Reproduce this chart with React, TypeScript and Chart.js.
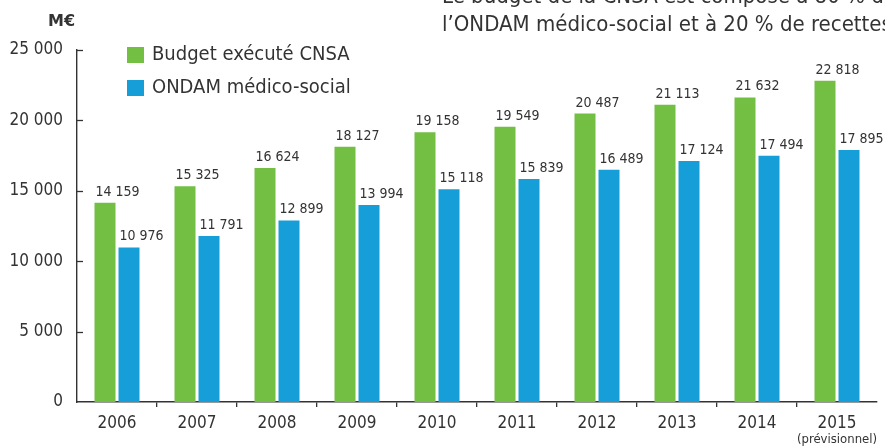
import React, { useEffect, useRef } from "react";
import { Chart, registerables } from "chart.js";

Chart.register(...registerables);

const categories = ["2006", "2007", "2008", "2009", "2010", "2011", "2012", "2013", "2014", "2015"];
const budgetCNSA = [14159, 15325, 16624, 18127, 19158, 19549, 20487, 21113, 21632, 22818];
const ondamMedicoSocial = [10976, 11791, 12899, 13994, 15118, 15839, 16489, 17124, 17494, 17895];
const seriesNames = ["Budget exécuté CNSA", "ONDAM médico-social"];
const seriesColors = ["#72BF44", "#169ED9"];
const yMin = 0;
const yMax = 25000;
const yStep = 5000;
const unitLabel = "M€";
const lastCategoryNote = "(prévisionnel)";
const titleLines = [
  "Le budget de la CNSA est composé à 80 % de crédits de",
  "l’ONDAM médico-social et à 20 % de recettes propres",
];

const FONT = "'DejaVu Sans Condensed', 'DejaVu Sans', sans-serif";
const TEXT = "#333333";

const fmt = (v: number) => {
  const s = Math.round(v).toString();
  return s.replace(/\B(?=(\d{3})+(?!\d))/g, " ");
};

const extrasPlugin = {
  id: "extras",
  afterDatasetsDraw(chart: any) {
    const ctx = chart.ctx;
    ctx.save();
    // data labels
    ctx.font = `14px ${FONT}`;
    ctx.fillStyle = TEXT;
    ctx.textAlign = "left";
    ctx.textBaseline = "alphabetic";
    chart.data.datasets.forEach((ds: any, di: number) => {
      const meta = chart.getDatasetMeta(di);
      meta.data.forEach((bar: any, i: number) => {
        const left = bar.x - bar.width / 2 + 1;
        ctx.fillText(fmt(ds.data[i]), left, bar.y - 7);
      });
    });
    // inward y ticks
    const y = chart.scales.y;
    const area = chart.chartArea;
    ctx.strokeStyle = TEXT;
    ctx.lineWidth = 1.3;
    y.ticks.forEach((t: any) => {
      if (t.value === yMin) return;
      const py = Math.round(y.getPixelForValue(t.value)) + 0.5;
      ctx.beginPath();
      ctx.moveTo(area.left, py);
      ctx.lineTo(area.left + 6, py);
      ctx.stroke();
    });
    // note under last category
    const x = chart.scales.x;
    const lastX = x.getPixelForValue(categories.length - 1);
    ctx.font = `13px ${FONT}`;
    ctx.textAlign = "center";
    ctx.textBaseline = "middle";
    ctx.fillText(lastCategoryNote, lastX, 440);
    // legend
    chart.data.datasets.forEach((ds: any, di: number) => {
      const top = 47 + di * 33;
      ctx.fillStyle = ds.backgroundColor;
      ctx.fillRect(127, top, 17, 16);
      ctx.fillStyle = TEXT;
      ctx.font = `20px ${FONT}`;
      ctx.textAlign = "left";
      ctx.textBaseline = "middle";
      ctx.fillText(ds.label, 152, top + 8);
    });
    ctx.restore();
  },
};

export default function App() {
  const ref = useRef<HTMLCanvasElement | null>(null);

  useEffect(() => {
    if (!ref.current) return;
    const chart = new Chart(ref.current, {
      type: "bar",
      data: {
        labels: categories,
        datasets: [
          {
            label: seriesNames[0],
            data: budgetCNSA,
            backgroundColor: seriesColors[0],
            categoryPercentage: 0.6,
            barPercentage: 0.875,
          },
          {
            label: seriesNames[1],
            data: ondamMedicoSocial,
            backgroundColor: seriesColors[1],
            categoryPercentage: 0.6,
            barPercentage: 0.875,
          },
        ],
      },
      options: {
        responsive: false,
        animation: false,
        devicePixelRatio: 1,
        layout: { padding: { top: 50, right: 8, left: 0, bottom: 0 } },
        plugins: {
          legend: { display: false },
          title: { display: false },
          tooltip: { enabled: false },
        },
        scales: {
          x: {
            grid: {
              offset: true,
              drawOnChartArea: false,
              drawTicks: true,
              tickLength: 5,
              lineWidth: 1.3,
              color: (c: any) => (c.type === "tick" && c.index > 0 ? TEXT : "rgba(0,0,0,0)"),
            },
            border: { display: true, color: TEXT, width: 1.4 },
            ticks: {
              color: TEXT,
              font: { family: FONT, size: 17 },
              padding: 6,
              maxRotation: 0,
              autoSkip: false,
            },
            afterFit: (s: any) => {
              s.height = 46;
              s.paddingLeft = 0;
              s.paddingRight = 0;
            },
          },
          y: {
            min: yMin,
            max: yMax,
            grid: { display: false, drawTicks: false },
            border: { display: true, color: TEXT, width: 1.4 },
            ticks: {
              stepSize: yStep,
              color: TEXT,
              font: { family: FONT, size: 17 },
              padding: 14,
              callback: (v: any) => fmt(Number(v)),
            },
            afterFit: (s: any) => {
              s.width = 77;
              s.paddingTop = 0;
              s.paddingBottom = 0;
            },
          },
        },
      },
      plugins: [extrasPlugin],
    });
    return () => chart.destroy();
  }, []);

  return (
    <div
      style={{
        position: "absolute",
        left: 0,
        top: 0,
        width: 885,
        height: 448,
        overflow: "hidden",
        background: "#ffffff",
      }}
    >
      <canvas ref={ref} width={885} height={448} style={{ position: "absolute", left: 0, top: 0 }} />
      <div
        style={{
          position: "absolute",
          left: 48,
          top: 11,
          fontFamily: "'DejaVu Sans', sans-serif",
          fontWeight: "bold",
          fontSize: 16,
          lineHeight: "20px",
          color: TEXT,
          whiteSpace: "nowrap",
        }}
      >
        {unitLabel}
      </div>
      <div
        style={{
          position: "absolute",
          left: 442,
          top: -18,
          fontFamily: FONT,
          fontSize: 22,
          lineHeight: "28px",
          color: TEXT,
          whiteSpace: "nowrap",
        }}
      >
        {titleLines.map((l, i) => (
          <div key={i}>{l}</div>
        ))}
      </div>
    </div>
  );
}
